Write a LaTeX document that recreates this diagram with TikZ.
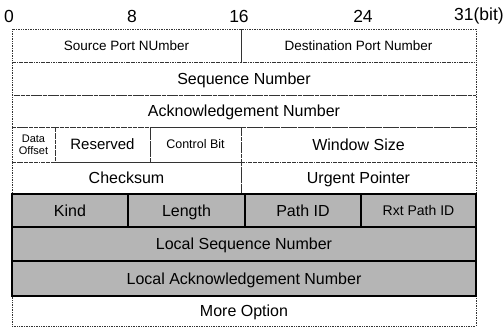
\documentclass[tikz,border=0pt]{standalone}
\usepackage{fontspec}
\setmainfont{Liberation Sans}
\begin{document}
\begin{tikzpicture}[x=1pt,y=-1pt,
  big/.style={font=\fontsize{16}{18}\selectfont, text height=11.5pt, text depth=0pt},
  mid/.style={font=\fontsize{13.5}{15}\selectfont, text height=9.7pt, text depth=0pt},
  cell/.style={draw=black!80, line width=0.6pt, dash pattern=on 0.8pt off 0.9pt, inner sep=0pt, anchor=center, big},
  opt/.style={draw=black, line width=2.2pt, fill=gray!58, inner sep=0pt, anchor=center, big},
  hdr/.style={inner sep=0pt, font=\fontsize{17.5}{19}\selectfont}]
\useasboundingbox (0,0) rectangle (504,328);
% header bit numbers
\node[hdr, anchor=west] (b0) at (4,16) {0};
\node[hdr] (b8) at (132,16) {8};
\node[hdr] (b16) at (239,16) {16};
\node[hdr] (b24) at (363,16) {24};
\node[hdr, anchor=east] (b31) at (504,16) {31(bit)};
% row 1
\node[cell, minimum width=229pt, minimum height=33pt, mid] (src) at (126.5,45.5) {Source Port NUmber};
\node[cell, minimum width=235pt, minimum height=33pt, mid] (dst) at (358.5,45.5) {Destination Port Number};
% row 2, 3
\node[cell, minimum width=464pt, minimum height=33pt] (seq) at (244,78.5) {Sequence Number};
\node[cell, minimum width=464pt, minimum height=32pt] (ack) at (244,111) {Acknowledgement Number};
% row 4
\node[cell, minimum width=43pt, minimum height=35pt, align=center, font=\fontsize{11}{12}\selectfont, text height=, text depth=] (doff) at (33.5,144.5) {Data\\Offset};
\node[cell, minimum width=95pt, minimum height=35pt, font=\fontsize{15}{17}\selectfont, text height=10.7pt] (res) at (102.5,144.5) {Reserved};
\node[cell, minimum width=91pt, minimum height=35pt, font=\fontsize{12.5}{14}\selectfont, text height=9pt] (ctl) at (195.5,144.5) {Control Bit};
\node[cell, minimum width=235pt, minimum height=35pt] (win) at (358.5,144.5) {Window Size};
% row 5
\node[cell, minimum width=229pt, minimum height=32pt] (chk) at (126.5,178) {Checksum};
\node[cell, minimum width=235pt, minimum height=32pt] (urg) at (358.5,178) {Urgent Pointer};
% row 9
\node[cell, minimum width=464pt, minimum height=30pt] (more) at (244,311) {More Option};
% option rows
\node[opt, minimum width=116pt, minimum height=33pt] (kind) at (70,210.5) {Kind};
\node[opt, minimum width=117pt, minimum height=33pt] (len) at (186.5,210.5) {Length};
\node[opt, minimum width=116pt, minimum height=33pt] (pid) at (303,210.5) {Path ID};
\node[opt, minimum width=115pt, minimum height=33pt, font=\fontsize{14}{16}\selectfont, text height=10pt] (rxt) at (418.5,210.5) {Rxt Path ID};
\node[opt, minimum width=464pt, minimum height=34pt] (lseq) at (244,244) {Local Sequence Number};
\node[opt, minimum width=464pt, minimum height=35pt] (lack) at (244,278.5) {Local Acknowledgement Number};
\end{tikzpicture}
\end{document}
